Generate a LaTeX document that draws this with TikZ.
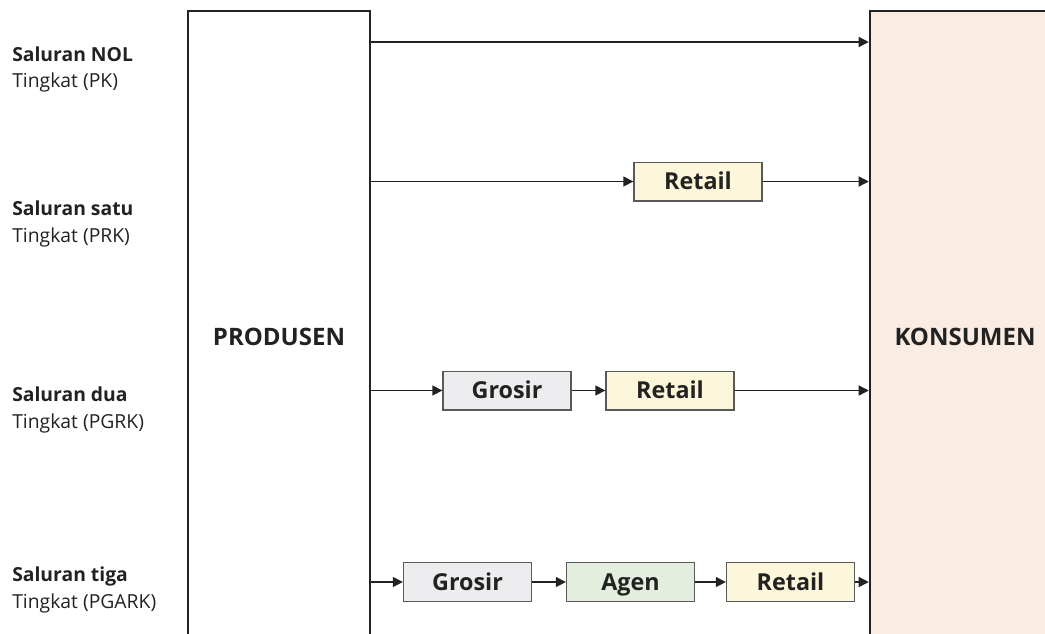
\documentclass[tikz,border=0pt]{standalone}
\usepackage{fontspec}
\setmainfont{Open Sans}
\usepackage[HTML]{xcolor}
\usetikzlibrary{positioning, arrows.meta}

\definecolor{konsfill}{HTML}{F9ECE3}
\definecolor{retailfill}{HTML}{FCF6DA}
\definecolor{grosirfill}{HTML}{EDEDF0}
\definecolor{agenfill}{HTML}{E4EEDF}
\definecolor{ink}{HTML}{222222}

\begin{document}
\begin{tikzpicture}[x=0.75pt, y=-0.75pt, text=ink,
    bigbox/.style={draw=ink, line width=1.9pt, inner sep=0pt, minimum height=489pt,
        font=\bfseries\fontsize{18}{21}\selectfont},
    midbox/.style={draw=black!65, line width=1pt, inner sep=0pt, minimum width=96pt,
        minimum height=29pt, text height=12.5pt, text depth=0pt,
        font=\bfseries\fontsize{17.5}{20}\selectfont},
    flow/.style={-{Triangle[length=7.5pt, width=7.5pt]}, line width=1pt, draw=ink},
    lvl/.style={anchor=base west, inner sep=0pt, font=\bfseries\fontsize{14.5}{17}\selectfont},
    sub/.style={anchor=base west, inner sep=0pt, font=\fontsize{14.5}{17}\selectfont}]
\useasboundingbox (0,0) rectangle (1045,633);
\clip (0,0) rectangle (1045,633);

% the two ends of every channel
\node[bigbox, minimum width=136.5pt] (prod) at (279,337) {PRODUSEN};
\node[bigbox, minimum width=142.5pt, fill=konsfill] (kons) at (965,337) {KONSUMEN};

% level labels
\node[lvl] (l1a) at (12,61) {Saluran NOL};
\node[sub] (l1b) at (12,87) {Tingkat (PK)};
\node[lvl] (l2a) at (12,215) {Saluran satu};
\node[sub] (l2b) at (12,242) {Tingkat (PRK)};
\node[lvl] (l3a) at (12,401) {Saluran dua};
\node[sub] (l3b) at (12,428) {Tingkat (PGRK)};
\node[lvl] (l4a) at (12,581) {Saluran tiga};
\node[sub] (l4b) at (12,608) {Tingkat (PGARK)};

% channel 0
\coordinate (y1) at (0,42);
\draw[flow] (prod.east |- y1) -- (kons.west |- y1);

% channel 1
\node[midbox, fill=retailfill] (ret2) at (698,181.5) {Retail};
\draw[flow] (prod.east |- ret2) -- (ret2);
\draw[flow] (ret2) -- (kons.west |- ret2);

% channel 2
\node[midbox, fill=grosirfill] (gro3) at (507,390.5) {Grosir};
\node[midbox, fill=retailfill] (ret3) at (670,390.5) {Retail};
\draw[flow] (prod.east |- gro3) -- (gro3);
\draw[flow] (gro3) -- (ret3);
\draw[flow] (ret3) -- (kons.west |- ret3);

% channel 3
\node[midbox, fill=grosirfill] (gro4) at (467.5,582) {Grosir};
\node[midbox, fill=agenfill] (agen4) at (630.5,582) {Agen};
\node[midbox, fill=retailfill] (ret4) at (790.5,582) {Retail};
\draw[flow] (prod.east |- gro4) -- (gro4);
\draw[flow] (gro4) -- (agen4);
\draw[flow] (agen4) -- (ret4);
\draw[flow] (ret4) -- (kons.west |- ret4);

\end{tikzpicture}
\end{document}
